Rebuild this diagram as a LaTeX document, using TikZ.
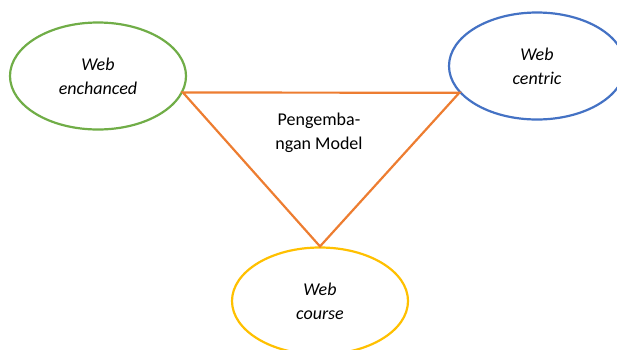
\documentclass[tikz,border=0pt]{standalone}
\usepackage{fontspec}
\setmainfont{Carlito}
\usepackage{tikz}
\usetikzlibrary{shapes.geometric}
\definecolor{webgreen}{HTML}{70AD47}
\definecolor{webblue}{HTML}{4472C4}
\definecolor{webyellow}{HTML}{FFC000}
\definecolor{weborange}{HTML}{ED7D31}
\tikzstyle{mode} = [ellipse, minimum width=176pt, minimum height=107pt, line width=2.2pt, align=center, font=\fontsize{18}{24}\selectfont\itshape]
\tikzstyle{link} = [line width=2.2pt, draw=weborange, line join=miter]

\begin{document}
\begin{tikzpicture}[x=1pt, y=-1pt]
\useasboundingbox (0,0) rectangle (617,349);

% Nodes
\node (enh) [mode, draw=webgreen] at (98,76) {Web\\enchanced};
\node (cen) [mode, draw=webblue] at (537,66) {Web\\centric};
\node (course) [mode, draw=webyellow] at (320,301) {Web\\course};
\node (model) [align=center, font=\fontsize{18}{24}\selectfont] at (319,133) {Pengemba-\\ngan Model};

% Triangle
\draw [link] (enh.-11) -- (cen.199) -- (course.north) -- cycle;

\end{tikzpicture}
\end{document}
